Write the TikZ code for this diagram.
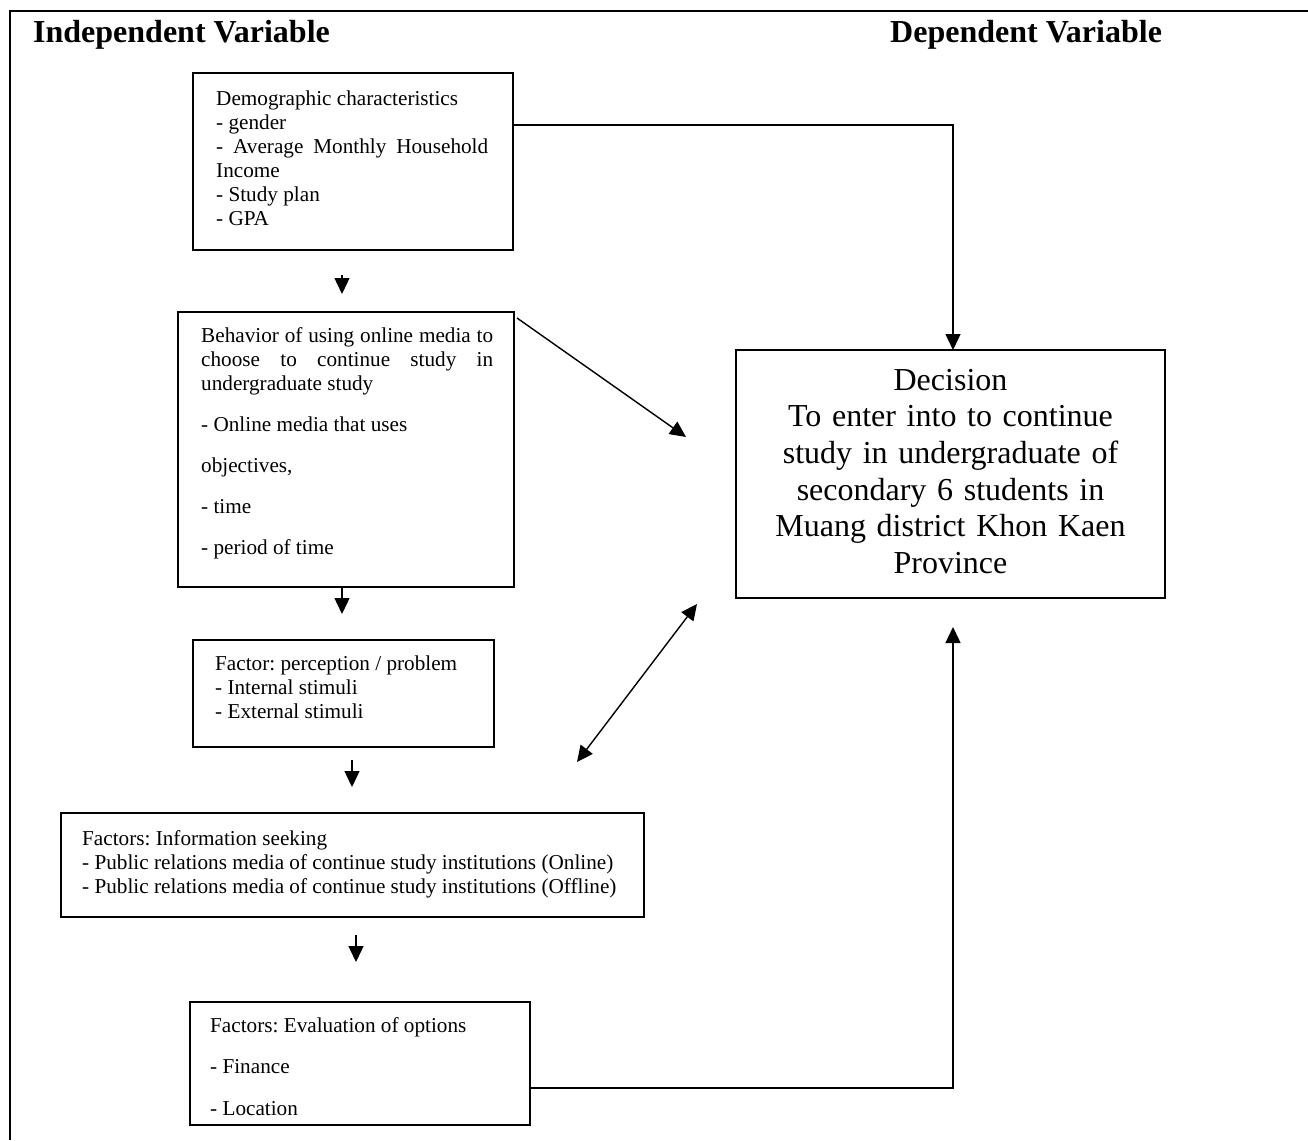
\documentclass[tikz,border=0pt]{standalone}
\usepackage{fontspec}
\setmainfont{Liberation Serif}
\usetikzlibrary{arrows.meta}
\setlength\parindent{0pt}
\frenchspacing
\newcommand\smallfnt{\fontsize{21.2}{24}\selectfont\frenchspacing}
\newcommand\bigfnt{\fontsize{32}{36.6}\selectfont\frenchspacing}
\begin{document}
\begin{tikzpicture}[x=1pt,y=-1pt,
  box/.style={draw, line width=2.4pt, inner sep=0pt, outer sep=0pt, anchor=north west},
  txt/.style={anchor=north west, inner sep=0pt, align=justify, font=\smallfnt},
  hd/.style={anchor=base west, inner sep=0pt, font=\fontsize{32}{36}\selectfont\bfseries},
  conn/.style={line width=1.4pt, -{Triangle[length=16pt,width=15pt]}},
  dconn/.style={line width=1.4pt, {Triangle[length=16pt,width=15pt]}-{Triangle[length=16pt,width=15pt]}},
  plain/.style={line width=1.4pt}
]
\useasboundingbox (0,0) rectangle (1308,1140);
\draw[line width=2.8pt] (1308,11) -- (10,11) -- (10,1140);

\node[hd] (indep) at (33,42) {Independent Variable};
\node[hd] (dep) at (890,42) {Dependent Variable};

% boxes
\node[box, minimum width=320pt, minimum height=177pt] (demo) at (193,73) {};
\node[txt, text width=272pt] (demotxt) at (216,88.2) {\strut Demographic characteristics\\
- gender\\
- Average Monthly Household\linebreak Income\\
- Study plan\\
- GPA};

\node[box, minimum width=336pt, minimum height=275pt] (beh) at (178,312) {};
\node[txt, text width=292pt] (behtxt) at (201,325.2) {\strut Behavior of using online media to\linebreak choose to continue study in\linebreak undergraduate study\\[17pt]
- Online media that uses\\[17pt]
objectives,\\[17pt]
- time\\[17pt]
- period of time};

\node[box, minimum width=301pt, minimum height=107pt] (fact) at (193,640) {};
\node[txt, text width=270pt] (facttxt) at (215,653.2) {\strut Factor: perception / problem\\
- Internal stimuli\\
- External stimuli};

\node[box, minimum width=583pt, minimum height=104pt] (info) at (61,813) {};
\node[txt, text width=550pt] (infotxt) at (82,828.2) {\strut Factors: Information seeking\\
- Public relations media of continue study institutions (Online)\\
- Public relations media of continue study institutions (Offline)};

\node[box, minimum width=340pt, minimum height=123pt] (eval) at (190,1002) {};
\node[txt, text width=300pt] (evaltxt) at (210,1015.2) {\strut Factors: Evaluation of options\\[17.5pt]
- Finance\\[17.5pt]
- Location};

\node[box, minimum width=429pt, minimum height=248pt] (dec) at (736,350) {};
\node[anchor=north, inner sep=0pt, text width=420pt, align=center, font=\bigfnt] (dectxt) at (950.5,364.4) {\strut Decision\\
To enter into to continue\\
study in undergraduate of\\
secondary 6 students in\\
Muang district Khon Kaen\\
Province};

% free ends
\coordinate (a1) at (342,275);
\coordinate (a2) at (342,294);
\coordinate (c1) at (352,760);
\coordinate (c2) at (352,787);
\coordinate (d1) at (356,935);
\coordinate (d2) at (356,962);
\coordinate (diagend) at (686,437);
\coordinate (dA) at (697,604);
\coordinate (dB) at (577,762);
\coordinate (decup) at (953,627);

% connectors
\draw[conn] ([yshift=-52pt]demo.north east) -| ([xshift=2.5pt]dec.north);
\draw[conn] (a1) -- (a2);
\draw[conn] ([xshift=3pt,yshift=-6pt]beh.north east) -- (diagend);
\draw[conn] ([xshift=-4pt]beh.south) -- ++(0,27);
\draw[dconn] (dB) -- (dA);
\draw[conn] (c1) -- (c2);
\draw[conn] (d1) -- (d2);
\draw[conn] ([yshift=-24.5pt]eval.east) -| (decup);
\end{tikzpicture}
\end{document}
